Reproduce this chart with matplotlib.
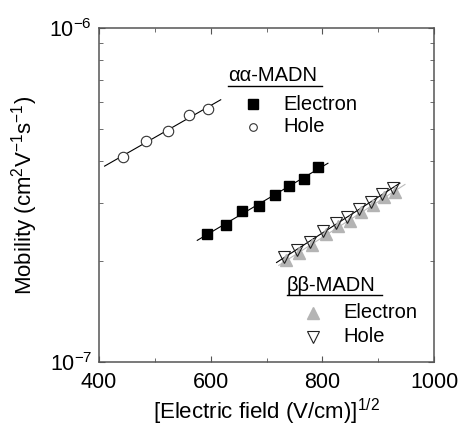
import numpy as np
import matplotlib
matplotlib.use("Agg")
from matplotlib import pyplot as plt
from matplotlib.lines import Line2D

plt.rcParams['font.family'] = ['Liberation Sans', 'DejaVu Sans']
plt.rcParams['mathtext.fontset'] = 'custom'
plt.rcParams['mathtext.rm'] = 'Liberation Sans'
plt.rcParams['mathtext.it'] = 'Liberation Sans:italic'
plt.rcParams['mathtext.bf'] = 'Liberation Sans:bold'

# aa-MADN
aa_hole_x = [443, 485, 523, 561, 595]
aa_hole_mu = [4.12e-7, 4.59e-7, 4.92e-7, 5.48e-7, 5.72e-7]
aa_elec_x = [594, 627, 657, 687, 716, 741, 768, 792]
aa_elec_mu = [2.42e-7, 2.58e-7, 2.83e-7, 2.94e-7, 3.16e-7, 3.37e-7, 3.53e-7, 3.84e-7]

# bb-MADN
bb_hole_x = [731, 755, 778, 802, 824, 845, 866, 887, 906, 927]
bb_hole_mu = [2.06e-7, 2.16e-7, 2.29e-7, 2.46e-7, 2.60e-7, 2.71e-7, 2.87e-7, 3.02e-7, 3.18e-7, 3.31e-7]
bb_elec_x = [735, 759, 782, 806, 828, 849, 870, 891, 910, 931]
bb_elec_mu = [2.02e-7, 2.12e-7, 2.24e-7, 2.41e-7, 2.55e-7, 2.65e-7, 2.81e-7, 2.96e-7, 3.11e-7, 3.24e-7]

# range of each fitted line
aa_hole_fit = [410, 618]
aa_elec_fit = [576, 810]
bb_hole_fit = [718, 939]
bb_elec_fit = [722, 948]


def fit_line(x, mu, xr):
    k, b = np.polyfit(x, np.log10(mu), 1)
    xs = np.array(xr, dtype=float)
    return xs, 10 ** (k * xs + b)


fig = plt.figure(figsize=(4.62, 4.30), dpi=100)
ax = fig.add_axes([0.2143, 0.1581, 0.7251, 0.7767])

for x, mu, xr, c in [(aa_hole_x, aa_hole_mu, aa_hole_fit, 'black'),
                     (aa_elec_x, aa_elec_mu, aa_elec_fit, 'black'),
                     (bb_elec_x, bb_elec_mu, bb_elec_fit, '#bbbbbb'),
                     (bb_hole_x, bb_hole_mu, bb_hole_fit, 'black')]:
    xs, ys = fit_line(x, mu, xr)
    ax.plot(xs, ys, color=c, lw=0.8, zorder=2)

ax.plot(aa_hole_x, aa_hole_mu, 'o', ms=7.5, mfc='white', mec='#333333', mew=0.8, zorder=3)
ax.plot(aa_elec_x, aa_elec_mu, 's', ms=7.8, mfc='black', mec='black', zorder=3)
ax.plot(bb_elec_x, bb_elec_mu, '^', ms=8, mfc='#b4b4b4', mec='#b4b4b4', zorder=3)
ax.plot(bb_hole_x, bb_hole_mu, 'v', ms=8.5, mfc='none', mec='#222222', mew=0.8, zorder=4)

ax.set_yscale('log')
ax.set_xlim(400, 1000)
ax.set_ylim(1e-7, 1e-6)
ax.set_xticks([400, 600, 800, 1000])
ax.set_xticks([500, 700, 900], minor=True)
ax.set_yticks([1e-7, 1e-6])

ax.tick_params(which='both', direction='in', top=True, right=True,
               labelsize=15.5, color='#555555')
ax.tick_params(axis='x', pad=7)
ax.tick_params(axis='y', pad=5)
ax.tick_params(which='major', length=4)
ax.tick_params(which='minor', length=3)
for s in ax.spines.values():
    s.set_color('#555555')
    s.set_linewidth(1.1)

ax.set_xlabel(r'[Electric field (V/cm)]$^{1/2}$', fontsize=16, labelpad=3)
ax.set_ylabel(r'Mobility (cm$^{2}$V$^{-1}$s$^{-1}$)', fontsize=16, labelpad=7)

# legends (hand placed, with underlined titles)
fs = 14.5
ax.text(0.385, 0.841, 'αα-MADN', transform=ax.transAxes, fontsize=fs, va='baseline')
ax.add_line(Line2D([0.385, 0.666], [0.826, 0.826], transform=ax.transAxes, color='black', lw=1))
ax.plot([0.460], [0.772], 's', ms=6.5, color='black', transform=ax.transAxes)
ax.text(0.549, 0.772, 'Electron', transform=ax.transAxes, fontsize=fs, va='center')
ax.plot([0.460], [0.704], 'o', ms=5.5, mfc='white', mec='#333333', mew=0.8, transform=ax.transAxes)
ax.text(0.549, 0.704, 'Hole', transform=ax.transAxes, fontsize=fs, va='center')

ax.text(0.561, 0.213, 'ββ-MADN', transform=ax.transAxes, fontsize=fs, va='baseline')
ax.add_line(Line2D([0.561, 0.845], [0.200, 0.200], transform=ax.transAxes, color='black', lw=1))
ax.plot([0.639], [0.147], '^', ms=8, color='#b4b4b4', transform=ax.transAxes)
ax.text(0.728, 0.147, 'Electron', transform=ax.transAxes, fontsize=fs, va='center')
ax.plot([0.639], [0.075], 'v', ms=8, mfc='white', mec='#222222', mew=0.8, transform=ax.transAxes)
ax.text(0.728, 0.075, 'Hole', transform=ax.transAxes, fontsize=fs, va='center')

fig.savefig('out.png', dpi=100)
